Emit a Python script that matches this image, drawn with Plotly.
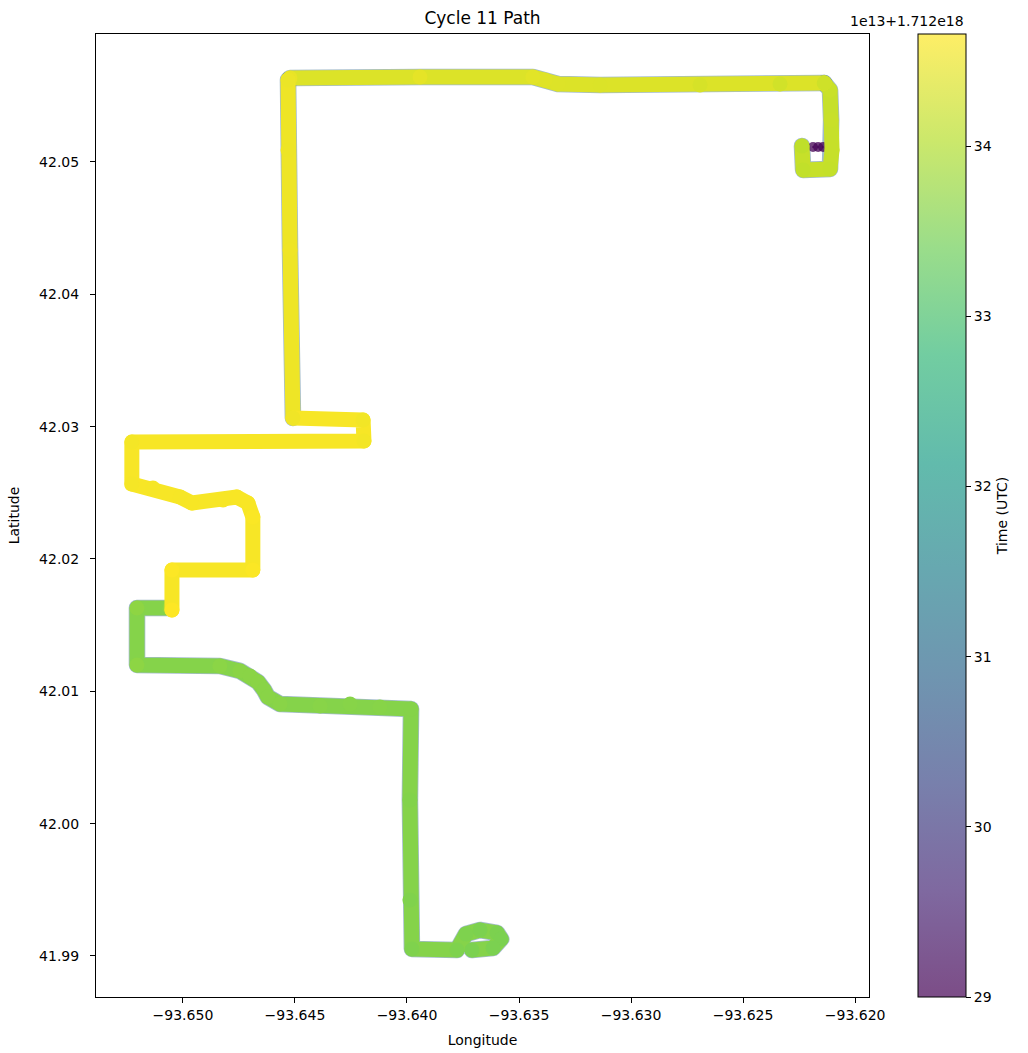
import plotly.graph_objects as go
import plotly.colors as pc

# ---------------- data ----------------
# time values are in units of 1e13 ns, offset 1.712e18 (as on the colorbar)
start_lon = [-93.62188, -93.62165, -93.62143]
start_lat = [42.05113, 42.05113, 42.05113]
start_t = [29.00, 29.02, 29.05]

lower_lon = [-93.65058, -93.65205, -93.65205, -93.64835, -93.64746, -93.64701, -93.64665,
             -93.64638, -93.64621, -93.64567, -93.64388, -93.64254, -93.64121, -93.63982,
             -93.63987, -93.63987, -93.63978, -93.63777, -93.63737, -93.63674, -93.63598,
             -93.63580, -93.63616, -93.63710]
lower_lat = [42.01630, 42.01630, 42.01199, 42.01191, 42.01154, 42.01116, 42.01070,
             42.01010, 42.00957, 42.00904, 42.00889, 42.00904, 42.00882, 42.00866,
             42.00179, 41.99423, 41.99053, 41.99045, 41.99166, 41.99196, 41.99174,
             41.99128, 41.99060, 41.99045]
lower_t = [33.70, 33.69, 33.68, 33.66, 33.65, 33.65, 33.65, 33.64, 33.64, 33.64, 33.63,
           33.62, 33.62, 33.61, 33.58, 33.56, 33.55, 33.54, 33.54, 33.53, 33.53, 33.52,
           33.52, 33.52]

loop_lon = [-93.62237, -93.62232, -93.62112, -93.62103, -93.62107, -93.62112, -93.62138]
loop_lat = [42.05121, 42.04940, 42.04947, 42.05091, 42.05317, 42.05544, 42.05597]
loop_t = [34.12, 34.14, 34.16, 34.18, 34.20, 34.21, 34.22]

top_lon = [-93.62138, -93.62335, -93.62692, -93.63138, -93.63326, -93.63384, -93.63438,
           -93.63942, -93.64522]
top_lat = [42.05597, 42.05589, 42.05582, 42.05582, 42.05589, 42.05620, 42.05642,
           42.05642, 42.05635]
top_t = [34.25, 34.28, 34.32, 34.36, 34.38, 34.40, 34.42, 34.45, 34.48]

vert_lon = [-93.64531, -93.64531, -93.64522, -93.64509]
vert_lat = [42.05620, 42.05091, 42.04335, 42.03065]
vert_t = [34.50, 34.52, 34.54, 34.55]

mid_lon = [-93.64509, -93.64196, -93.64192, -93.65228, -93.65228, -93.65134, -93.65013,
           -93.64960, -93.64821, -93.64759, -93.64710, -93.64688, -93.64688, -93.65049,
           -93.65049]
mid_lat = [42.03065, 42.03050, 42.02892, 42.02884, 42.02567, 42.02536, 42.02468,
           42.02423, 42.02446, 42.02468, 42.02423, 42.02317, 42.01917, 42.01917,
           42.01615]
mid_t = [34.55, 34.56, 34.57, 34.58, 34.59, 34.60, 34.60, 34.61, 34.61, 34.62, 34.62,
         34.63, 34.64, 34.65, 34.66]

x_tick_vals = [-93.650, -93.645, -93.640, -93.635, -93.630, -93.625, -93.620]
x_tick_text = ["\u221293.650", "\u221293.645", "\u221293.640", "\u221293.635",
               "\u221293.630", "\u221293.625", "\u221293.620"]
y_tick_vals = [41.99, 42.00, 42.01, 42.02, 42.03, 42.04, 42.05]
y_tick_text = ["41.99", "42.00", "42.01", "42.02", "42.03", "42.04", "42.05"]
cb_tick_vals = [29, 30, 31, 32, 33, 34]

# ---------------- styling ----------------
T_MIN, T_MAX = 29.0, 34.66
MS = 15  # marker diameter (px)
FONT = "DejaVu Sans"

vir = pc.sequential.Viridis
pale_scale = []
for i, h in enumerate(vir):
    r, g, b = pc.hex_to_rgb(h)
    a = 0.7
    pale_scale.append([i / (len(vir) - 1),
                       "rgb(%d,%d,%d)" % (round(a * r + (1 - a) * 255),
                                          round(a * g + (1 - a) * 255),
                                          round(a * b + (1 - a) * 255))])

def scale_color(t):
    frac = (t - T_MIN) / (T_MAX - T_MIN)
    return pc.sample_colorscale("Viridis", [min(max(frac, 0), 1)])[0]

fig = go.Figure()

sections = [
    (lower_lon, lower_lat, lower_t, True),
    (loop_lon, loop_lat, loop_t, True),
    (top_lon, top_lat, top_t, True),
    (vert_lon, vert_lat, vert_t, True),
    (mid_lon, mid_lat, mid_t, False),
]

# faint fringe left by earlier passes underneath
for lo, la, tt, fr in sections:
    if fr:
        fig.add_trace(go.Scatter(x=lo, y=la, mode="lines",
                                 line=dict(color="rgba(50,105,140,0.45)", width=MS + 1.6),
                                 hoverinfo="skip"))

# colorbar holder (pale, as matplotlib draws alpha colorbars)
fig.add_trace(go.Scatter(
    x=start_lon, y=start_lat, mode="markers",
    marker=dict(size=2, color=start_t, colorscale=pale_scale, cmin=T_MIN, cmax=T_MAX,
                opacity=1, line=dict(width=0), showscale=True,
                colorbar=dict(thickness=48, thicknessmode="pixels", len=1, lenmode="fraction",
                              x=1.0634, xanchor="left", y=0.5, yanchor="middle",
                              xpad=0, ypad=0, outlinewidth=1, outlinecolor="black",
                              ticks="outside", ticklen=5, tickwidth=1, tickcolor="black",
                              tickvals=cb_tick_vals,
                              tickfont=dict(family=FONT, size=14, color="black"),
                              title=dict(text="Time (UTC)", side="right",
                                         font=dict(family=FONT, size=14, color="black")))),
))
# start points
fig.add_trace(go.Scatter(
    x=start_lon, y=start_lat, mode="markers",
    marker=dict(size=10, color=start_t, colorscale="Viridis", cmin=T_MIN, cmax=T_MAX,
                opacity=0.75, line=dict(width=0), showscale=False)))

for lo, la, tt, fr in sections:
    col = scale_color(sum(tt) / len(tt))
    fig.add_trace(go.Scatter(x=lo, y=la, mode="lines", line=dict(color=col, width=MS),
                             hoverinfo="skip"))
    fig.add_trace(go.Scatter(x=lo, y=la, mode="markers",
                             marker=dict(size=MS, color=tt, colorscale="Viridis",
                                         cmin=T_MIN, cmax=T_MAX, line=dict(width=0),
                                         showscale=False)))

fig.update_layout(
    width=1028, height=1053,
    margin=dict(l=96, r=159, t=34, b=56, autoexpand=False),
    paper_bgcolor="white", plot_bgcolor="white",
    font=dict(family=FONT, size=14, color="black"),
    showlegend=False,
    title=dict(text="Cycle 11 Path", x=0.5, xref="paper", xanchor="center",
               y=1, yref="paper", yanchor="bottom", pad=dict(b=10),
               font=dict(family=FONT, size=17, color="black")),
    annotations=[dict(text="1e13+1.712e18", xref="paper", yref="paper",
                      x=1.1255, y=1, xanchor="right", yanchor="bottom", yshift=3,
                      showarrow=False, font=dict(family=FONT, size=14, color="black"))],
)
axis_common = dict(showgrid=False, zeroline=False, showline=True, linecolor="black",
                   linewidth=1, mirror=True, ticks="outside", ticklen=5, tickwidth=1,
                   tickcolor="black", automargin=False,
                   tickfont=dict(family=FONT, size=14, color="black"))
fig.update_xaxes(range=[-93.65388, -93.61938], tickmode="array", tickvals=x_tick_vals,
                 ticktext=x_tick_text,
                 title=dict(text="Longitude", standoff=13,
                            font=dict(family=FONT, size=14, color="black")),
                 **axis_common)
fig.update_yaxes(range=[41.98690, 42.05967], tickmode="array", tickvals=y_tick_vals,
                 ticktext=y_tick_text, ticklabelstandoff=8,
                 title=dict(text="Latitude", standoff=16,
                            font=dict(family=FONT, size=14, color="black")),
                 **axis_common)

post = """
document.body.style.margin = '0';
document.body.style.padding = '0';
document.querySelectorAll('.js-line').forEach(function (p) {
    p.style.strokeLinejoin = 'round';
    p.style.strokeLinecap = 'round';
});
"""
fig.write_html("out.html", post_script=post, config={"displayModeBar": False})
